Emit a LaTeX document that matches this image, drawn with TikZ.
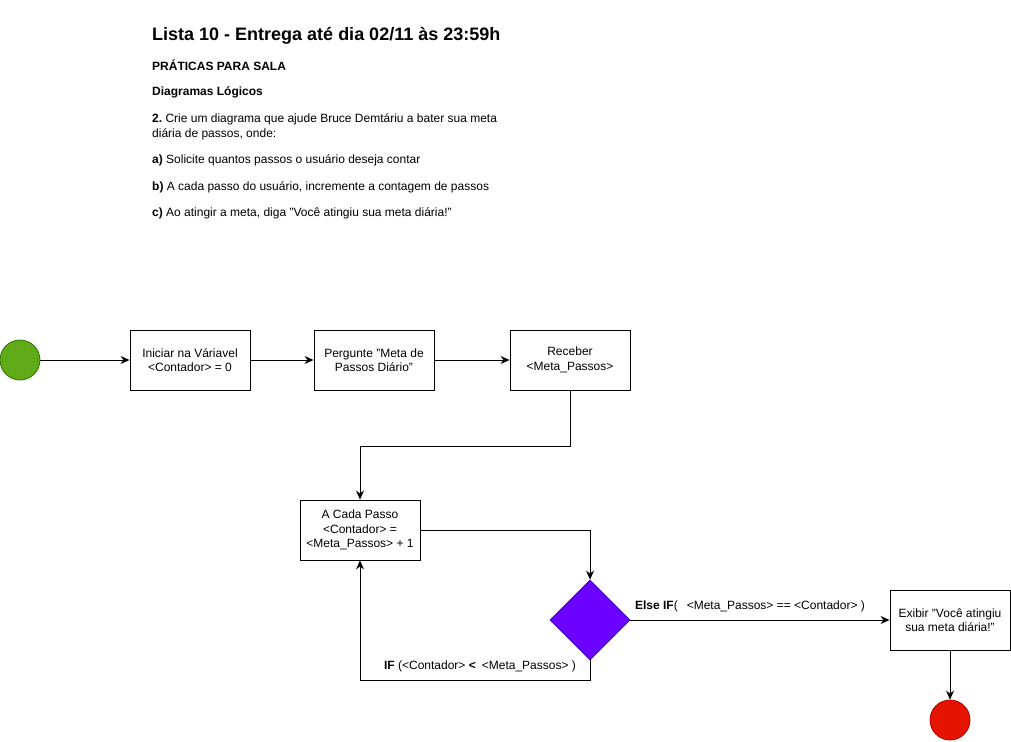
\documentclass[tikz,border=0pt]{standalone}
\usepackage{fontspec}
\setmainfont{Liberation Sans}
\usetikzlibrary{arrows.meta,shapes.geometric}
\definecolor{startgreen}{HTML}{60A917}
\definecolor{startborder}{HTML}{2D7600}
\definecolor{endred}{HTML}{E51400}
\definecolor{endborder}{HTML}{B20000}
\definecolor{decviolet}{HTML}{6A00FF}
\definecolor{decborder}{HTML}{3700CC}
\frenchspacing
\begin{document}
\begin{tikzpicture}[x=1pt,y=-1pt,
  txt/.style={font=\fontsize{12}{14.5}\selectfont},
  hdr/.style={txt,anchor=base west,inner sep=0pt},
  box/.style={txt,draw=black,fill=white,line width=0.9pt,minimum width=120pt,minimum height=60pt,align=center,inner sep=0pt},
  startc/.style={circle,fill=startgreen,draw=startborder,line width=0.8pt,minimum size=40pt,inner sep=0pt},
  endc/.style={circle,fill=endred,draw=endborder,line width=0.8pt,minimum size=40pt,inner sep=0pt},
  decision/.style={diamond,fill=decviolet,draw=decborder,line width=0.8pt,minimum width=80pt,minimum height=80pt,inner sep=0pt,aspect=1},
  conn/.style={line width=0.9pt,-{Stealth[length=9pt,width=8pt,inset=3pt]}},
  lbl/.style={txt,inner sep=0pt,anchor=center}]
\useasboundingbox (0,0) rectangle (1011,741);
\fill[white] (0,0) rectangle (1011,741);
% header
\node[hdr,font=\fontsize{18}{20}\selectfont\bfseries] (title) at (152,40.5) {Lista 10 - Entrega até dia 02/11 às 23:59h};
\node[hdr,font=\fontsize{12}{14}\selectfont\bfseries] (h1) at (152,71) {PRÁTICAS PARA SALA};
\node[hdr,font=\fontsize{12}{14}\selectfont\bfseries] (h2) at (152,96) {Diagramas Lógicos};
\node[hdr] (h3) at (152,122) {\textbf{2.} Crie um diagrama que ajude Bruce Demtáriu a bater sua meta};
\node[hdr] (h3b) at (152,137) {diária de passos, onde:};
\node[hdr] (ha) at (152,163) {\textbf{a)} Solicite quantos passos o usuário deseja contar};
\node[hdr] (hb) at (152,190) {\textbf{b)} A cada passo do usuário, incremente a contagem de passos};
\node[hdr] (hc) at (152,216) {\textbf{c)} Ao atingir a meta, diga "Você atingiu sua meta diária!"};
% nodes
\node[startc] (start) at (20,360) {};
\node[box] (b1) at (190,360) {Iniciar na Váriavel\\<Contador> = 0};
\node[box] (b2) at (374,360) {Pergunte "Meta de\\Passos Diário"};
\node[box] (b3) at (570,360) {Receber\\<Meta\_Passos>};
\node[box] (b4) at (360,530) {A Cada Passo\\ <Contador> =\\<Meta\_Passos> + 1};
\node[decision] (d) at (590,620) {};
\node[box] (b5) at (950,620) {Exibir "Você atingiu\\sua meta diária!"};
\node[endc] (end) at (950,720) {};
% connectors
\draw[conn] (start) -- (b1);
\draw[conn] (b1) -- (b2);
\draw[conn] (b2) -- (b3);
\draw[conn] (b3.south) |- (360,446) -- (b4.north);
\draw[conn] (b4.east) -| (d.north);
\draw[conn] (d.south) |- (360,680) -- (b4.south);
\draw[conn] (d.east) -- (b5.west);
\draw[conn] (b5) -- (end);
% labels
\node[lbl] (l1) at (480,666) {\textbf{IF} (<Contador> \textbf{<}\hspace{6pt}<Meta\_Passos> )};
\node[lbl] (l2) at (750,606) {\textbf{Else IF}(\hspace{9pt}<Meta\_Passos> == <Contador> )};
\end{tikzpicture}
\end{document}
